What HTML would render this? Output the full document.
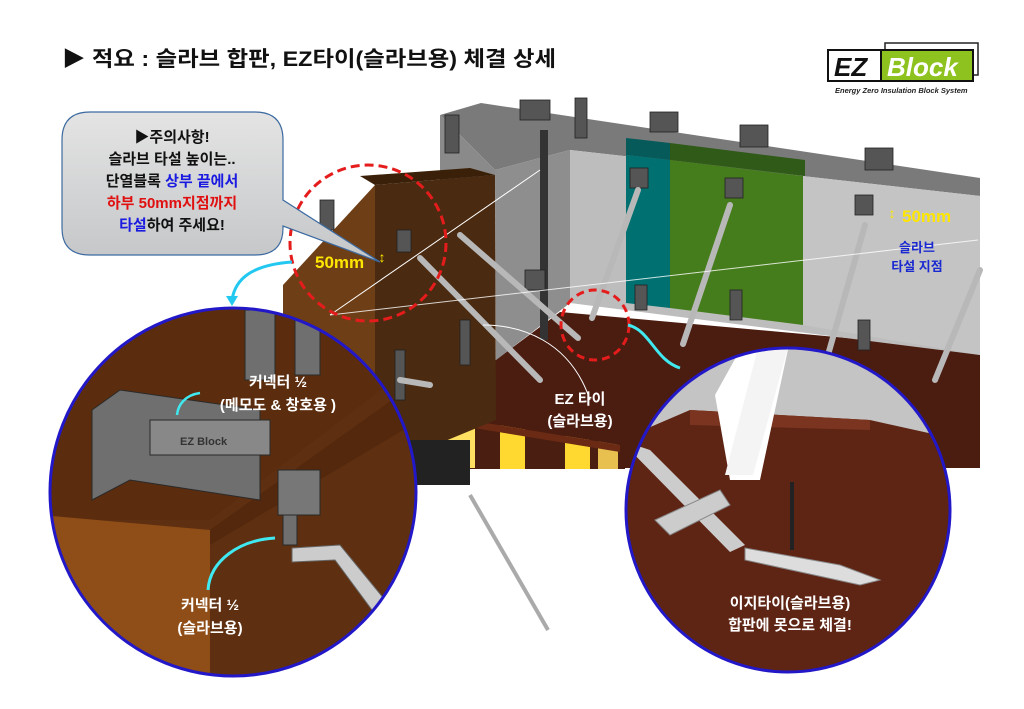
<!DOCTYPE html>
<html><head><meta charset="utf-8"><style>
html,body{margin:0;padding:0;background:#fff}
svg{display:block}
text{font-family:"Liberation Sans","Noto Sans CJK KR",sans-serif;font-weight:bold}
</style></head><body>
<svg width="1024" height="709" viewBox="0 0 1024 709" xmlns="http://www.w3.org/2000/svg">
<defs>
<linearGradient id="cg" x1="0" y1="0" x2="0" y2="1"><stop offset="0" stop-color="#e4e4e4"/><stop offset="1" stop-color="#c4c6c8"/></linearGradient>
<clipPath id="lc"><ellipse cx="233" cy="492" rx="183" ry="184"/></clipPath>
<clipPath id="rc"><ellipse cx="788" cy="510" rx="162" ry="162"/></clipPath>
</defs>
<rect width="1024" height="709" fill="#fff"/>
<!-- title -->
<text x="62" y="66" font-size="21" fill="#111" textLength="494" lengthAdjust="spacingAndGlyphs">▶ 적요 : 슬라브 합판, EZ타이(슬라브용) 체결 상세</text>
<!-- logo -->
<rect x="885" y="43" width="93" height="32" fill="#fff" stroke="#222" stroke-width="1.5"/>
<rect x="828" y="50" width="53" height="31" fill="#fff" stroke="#111" stroke-width="2"/>
<rect x="881" y="50" width="92" height="31" fill="#8dc21f" stroke="#111" stroke-width="2"/>
<text x="834" y="76" font-size="26" font-style="italic" fill="#111">EZ</text>
<text x="887" y="76" font-size="26" font-style="italic" fill="#fff">Block</text>
<text x="835" y="93" font-size="7.5" font-style="italic" fill="#222">Energy Zero Insulation Block System</text>

<!-- slab formwork supports -->
<rect x="425" y="413" width="200" height="56" fill="#4a1e10"/>
<rect x="425" y="418" width="50" height="50" fill="#ffe060"/>
<rect x="500" y="425" width="25" height="44" fill="#ffd830"/>
<rect x="565" y="430" width="25" height="39" fill="#ffd830"/>
<rect x="598" y="432" width="20" height="37" fill="#e8c050"/>
<!-- slab -->
<polygon points="425,413 560,312 980,350 980,468 620,468 620,445" fill="#4b1c10"/>
<polygon points="425,413 620,445 620,452 425,420" fill="#6b2a14"/>
<!-- wall top face -->
<polygon points="440,115 481,103 980,178 980,196 570,150 495,170" fill="#7a7a7a"/>
<polygon points="440,115 495,170 495,180 440,180" fill="#8a8a8a"/>
<polygon points="626,138 670,143 670,160 626,155" fill="#065a5a"/>
<polygon points="670,143 805,160 805,176 670,160" fill="#2f5a18"/>
<!-- wall front -->
<polygon points="570,150 980,196 980,355 570,303" fill="#bdbdbd"/>
<polygon points="626,155 670,160 670,308 626,303" fill="#007070"/>
<polygon points="670,160 803,176 803,325 670,308" fill="#467d1c"/>
<polygon points="803,176 980,196 980,355 803,325" fill="#c4c4c4"/>
<!-- wall side -->
<polygon points="495,170 570,150 570,303 496,360" fill="#8e8e8e"/>
<rect x="540" y="130" width="8" height="210" fill="#333"/>
<!-- brown column -->
<polygon points="283,285 375,185 375,470 283,470" fill="#6e3f17"/>
<polygon points="375,185 495,175 496,420 375,470" fill="#4a2a10"/>
<polygon points="375,185 495,175 470,168 360,176" fill="#3a2008"/>
<!-- connectors (simplified) -->
<g fill="#555" stroke="#222" stroke-width="0.8">
<rect x="445" y="115" width="14" height="38"/><rect x="520" y="100" width="30" height="20"/>
<rect x="575" y="98" width="12" height="40"/><rect x="650" y="112" width="28" height="20"/>
<rect x="740" y="125" width="28" height="22"/><rect x="865" y="148" width="28" height="22"/>
<rect x="630" y="168" width="18" height="20"/><rect x="725" y="178" width="18" height="20"/>
<rect x="855" y="195" width="18" height="20"/><rect x="320" y="200" width="14" height="30"/>
<rect x="397" y="230" width="14" height="22"/><rect x="460" y="320" width="10" height="45"/>
<rect x="395" y="350" width="10" height="50"/><rect x="525" y="270" width="20" height="20"/>
<rect x="635" y="285" width="12" height="25"/><rect x="730" y="290" width="12" height="30"/>
<rect x="858" y="320" width="12" height="30"/>
</g>
<!-- straps -->
<g stroke="#b8b8b8" stroke-width="6" stroke-linecap="round" fill="none">
<path d="M638,190 L592,318"/><path d="M730,205 L683,344"/><path d="M865,225 L818,390"/>
<path d="M980,270 L935,380"/><path d="M420,258 L540,380"/><path d="M460,235 L578,338"/>
<path d="M400,380 L430,385"/>
</g>
<!-- dashed white line -->
<line x1="330" y1="315" x2="978" y2="240" stroke="#fff" stroke-width="1" opacity=".8"/>
<line x1="540" y1="170" x2="330" y2="315" stroke="#fff" stroke-width="1"/>
<path d="M590,400 C570,340 520,325 483,325" stroke="#fff" stroke-width="1" fill="none"/>
<!-- red dashed -->
<circle cx="368" cy="243" r="78" fill="none" stroke="#e51c1c" stroke-width="3" stroke-dasharray="9,5"/>
<ellipse cx="595" cy="325" rx="34" ry="35" fill="none" stroke="#e51c1c" stroke-width="3" stroke-dasharray="8,5"/>
<!-- callout -->
<path d="M90,112 H255 Q283,112 283,140 V200 L380,262 L283,226 V228 Q283,255 255,255 H90 Q62,255 62,228 V140 Q62,112 90,112Z" fill="url(#cg)" stroke="#3c6aa0" stroke-width="1.2"/>
<g font-size="15" text-anchor="middle">
<text x="172" y="142" fill="#111">▶주의사항!</text>
<text x="172" y="164" fill="#111">슬라브 타설 높이는..</text>
<text x="172" y="186"><tspan fill="#111">단열블록 </tspan><tspan fill="#1a1ae0">상부 끝에서</tspan></text>
<text x="172" y="208" fill="#e01010">하부 50mm지점까지</text>
<text x="172" y="230"><tspan fill="#1a1ae0">타설</tspan><tspan fill="#111">하여 주세요!</tspan></text>
</g>
<!-- labels -->
<text x="315" y="268" font-size="17" fill="#ffe600">50mm</text>
<text x="382" y="262" font-size="14" fill="#ffe600" text-anchor="middle">↕</text>
<text x="902" y="222" font-size="17" fill="#ffe600">50mm</text>
<text x="892" y="218" font-size="14" fill="#ffe600" text-anchor="middle">↕</text>
<text x="917" y="252" font-size="13" fill="#1a2ad0" text-anchor="middle">슬라브</text>
<text x="917" y="271" font-size="13" fill="#1a2ad0" text-anchor="middle">타설 지점</text>
<text x="580" y="404" font-size="15" fill="#fff" text-anchor="middle">EZ 타이</text>
<text x="580" y="426" font-size="15" fill="#fff" text-anchor="middle">(슬라브용)</text>
<!-- hanging tie -->
<rect x="390" y="440" width="80" height="45" fill="#222"/>
<line x1="470" y1="495" x2="548" y2="630" stroke="#aaa" stroke-width="4"/>
<!-- cyan arrows -->
<path d="M292,262 C250,265 235,280 232,300" stroke="#22c8f0" stroke-width="3" fill="none"/>
<polygon points="226,296 238,296 232,306" fill="#22c8f0"/>
<path d="M628,325 C650,330 655,360 680,368" stroke="#40e8f0" stroke-width="3" fill="none"/>
<!-- left circle -->
<g clip-path="url(#lc)">
<rect x="40" y="300" width="400" height="400" fill="#5b2d0e"/>
<polygon points="40,520 210,520 420,360 420,700 40,700" fill="#5e2f10"/>
<polygon points="40,515 210,530 210,700 40,700" fill="#8f4d17"/>
<polygon points="210,530 420,380 420,420 210,545" fill="#4a2208" opacity=".5"/>
<g fill="#6f6f6f" stroke="#2a2a2a" stroke-width="1">
<rect x="245" y="310" width="30" height="70"/><rect x="295" y="320" width="25" height="55"/>
<polygon points="92,410 120,390 260,410 260,500 130,480 92,500"/>
<rect x="150" y="420" width="120" height="35" fill="#888"/>
<rect x="278" y="470" width="42" height="45" fill="#777"/>
<rect x="283" y="515" width="14" height="30"/>
</g>
<polygon points="292,548 340,545 385,600 372,610 335,560 292,562" fill="#ccc" stroke="#666"/>
<text x="180" y="445" font-size="11" fill="#333">EZ Block</text>
</g>
<ellipse cx="233" cy="492" rx="183" ry="184" fill="none" stroke="#2318c8" stroke-width="3"/>
<text x="278" y="387" font-size="15" fill="#fff" text-anchor="middle">커넥터 ½</text>
<text x="278" y="410" font-size="15" fill="#fff" text-anchor="middle">(메모도 &amp; 창호용 )</text>
<text x="210" y="610" font-size="15" fill="#fff" text-anchor="middle">커넥터 ½</text>
<text x="210" y="633" font-size="15" fill="#fff" text-anchor="middle">(슬라브용)</text>
<path d="M200,393 C185,395 178,405 177,415" stroke="#40e8f0" stroke-width="2.5" fill="none"/>
<path d="M208,590 C210,560 240,540 275,538" stroke="#40e8f0" stroke-width="3" fill="none"/>
<!-- right circle -->
<g clip-path="url(#rc)">
<rect x="620" y="340" width="340" height="340" fill="#5e2414"/>
<polygon points="620,340 960,340 960,440 870,420 690,410 620,440" fill="#c4c4c4"/>
<polygon points="690,410 870,420 870,430 690,425" fill="#7a3420"/>
<polygon points="715,395 740,350 790,340 760,480 730,480" fill="#fff"/>
<polygon points="760,340 790,340 753,475 725,475" fill="#f4f4f4"/>
<polygon points="620,440 650,450 745,545 730,552" fill="#ccc"/>
<polygon points="655,520 720,490 730,505 670,535" fill="#ccc" stroke="#888"/>
<polygon points="745,548 840,565 880,580 860,585 745,560" fill="#ddd" stroke="#888"/>
<rect x="790" y="482" width="4" height="68" fill="#222"/>
</g>
<ellipse cx="788" cy="510" rx="162" ry="162" fill="none" stroke="#2318c8" stroke-width="3"/>
<text x="790" y="608" font-size="15" fill="#fff" text-anchor="middle">이지타이(슬라브용)</text>
<text x="790" y="630" font-size="15" fill="#fff" text-anchor="middle">합판에 못으로 체결!</text>
</svg>
</body></html>
